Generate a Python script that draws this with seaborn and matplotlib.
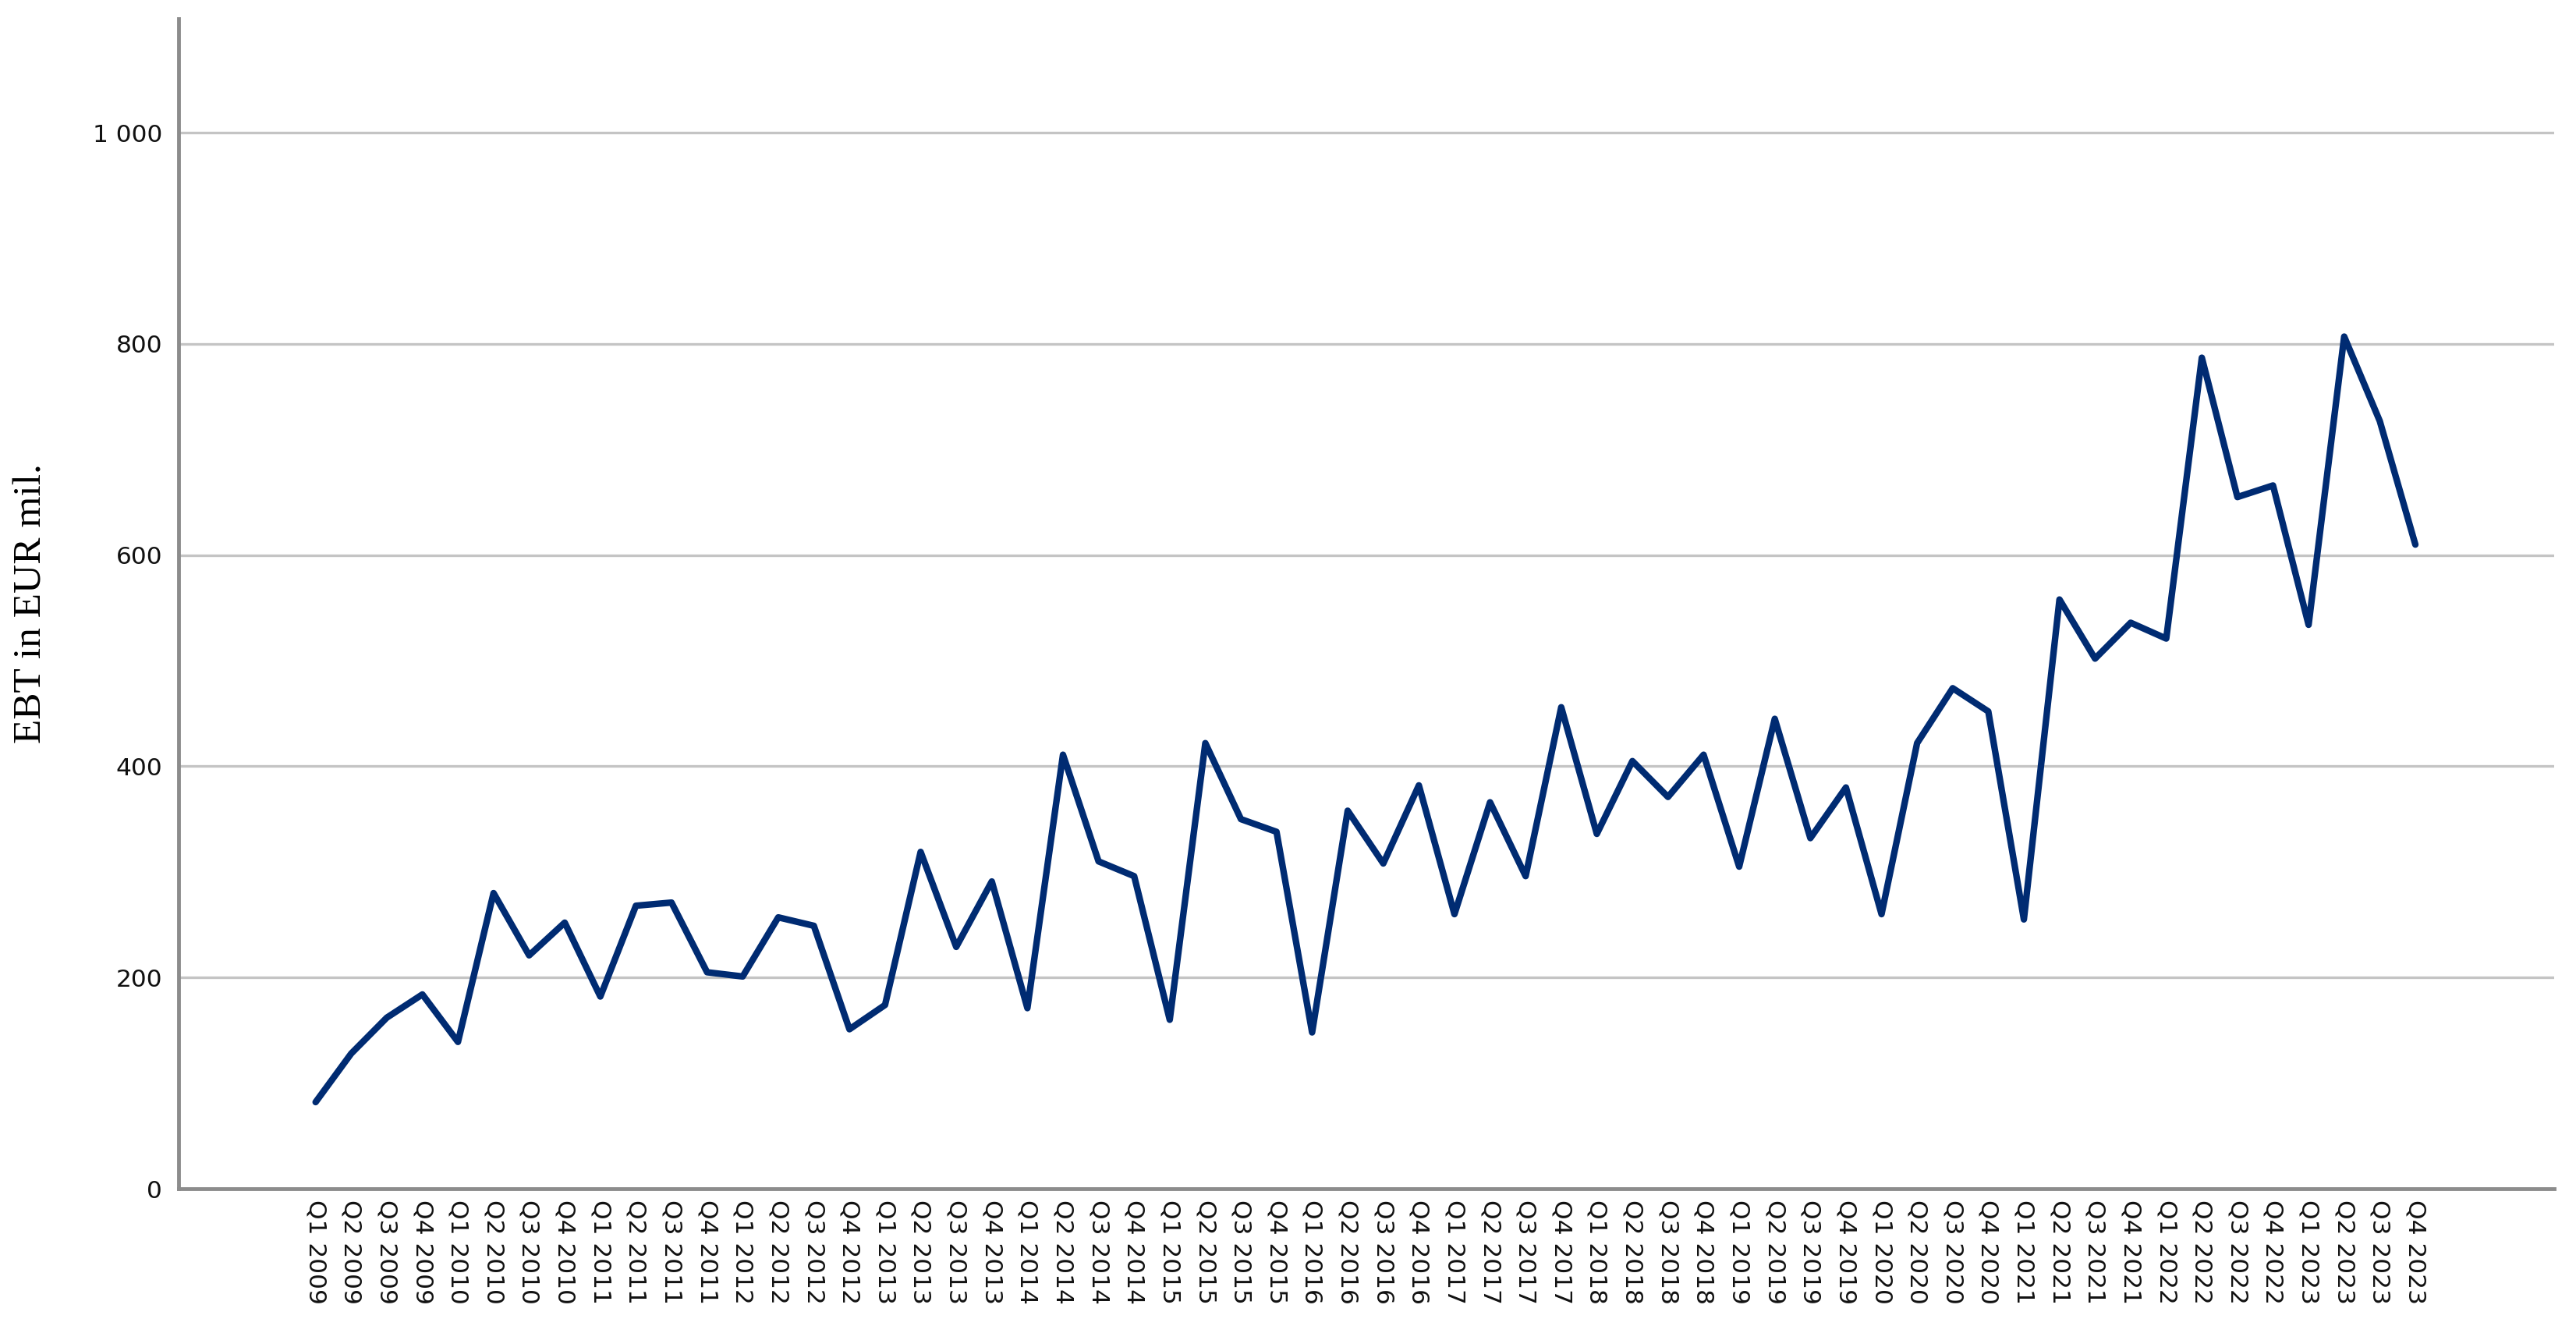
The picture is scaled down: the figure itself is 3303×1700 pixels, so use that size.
import matplotlib
matplotlib.use("Agg")
import matplotlib.pyplot as plt
from matplotlib.ticker import FuncFormatter, FixedLocator
import seaborn as sns
import pandas as pd

years = list(range(2009, 2024))
quarters = [f"Q{q} {y}" for y in years for q in range(1, 5)]

ebt = [82, 128, 162, 184, 139,
       280, 221, 252, 182, 268,
       271, 205, 201, 257, 249,
       151, 174, 319, 229, 291,
       171, 411, 310, 296, 160,
       422, 350, 338, 148, 358,
       308, 382, 260, 366, 296,
       456, 336, 405, 371, 411,
       305, 445, 332, 380, 260,
       422, 474, 452, 255, 558,
       502, 536, 521, 787, 655,
       666, 534, 807, 727, 610]

y_ticks = [0, 200, 400, 600, 800, 1000]

df = pd.DataFrame({"pos": range(len(quarters)), "quarter": quarters, "ebt": ebt})

sns.set_theme(style="white")
plt.rcParams["font.family"] = ["DejaVu Sans"]

fig = plt.figure(figsize=(33.03, 17.0), dpi=100)
ax = fig.add_axes([229 / 3303, 1 - 1524 / 1700, (3275 - 229) / 3303, (1524 - 24) / 1700])

sns.lineplot(data=df, x="pos", y="ebt", ax=ax, color="#002B72", linewidth=6.0, zorder=3)

ax.set_xlim(-3.85, len(quarters) - 1 + 3.9)
ax.set_ylim(0, 1108)

ax.yaxis.set_major_locator(FixedLocator(y_ticks))
ax.yaxis.set_major_formatter(FuncFormatter(lambda v, p: f"{int(v):,}".replace(",", " ")))
ax.set_xticks(df["pos"])
ax.set_xticklabels(df["quarter"], rotation=270, fontsize=22.5, color="#111111")
ax.tick_params(axis="y", labelsize=22.5, labelcolor="#111111", length=0, pad=15)
ax.tick_params(axis="x", length=0, pad=10)

ax.grid(axis="y", color="#c4c4c4", linewidth=2.4, zorder=0)
ax.grid(axis="x", visible=False)

for s in ["top", "right"]:
    ax.spines[s].set_visible(False)
for s in ["left", "bottom"]:
    ax.spines[s].set_color("#8c8c8c")
    ax.spines[s].set_linewidth(3.5)

ax.set_xlabel("")
ax.set_ylabel("EBT in EUR mil.", family=["Liberation Serif", "DejaVu Serif"], fontsize=37,
              color="#000000", va="center")
ax.yaxis.set_label_coords((40 - 229) / (3275 - 229), 0.5)

fig.savefig("out.png", dpi=100, facecolor="white")
